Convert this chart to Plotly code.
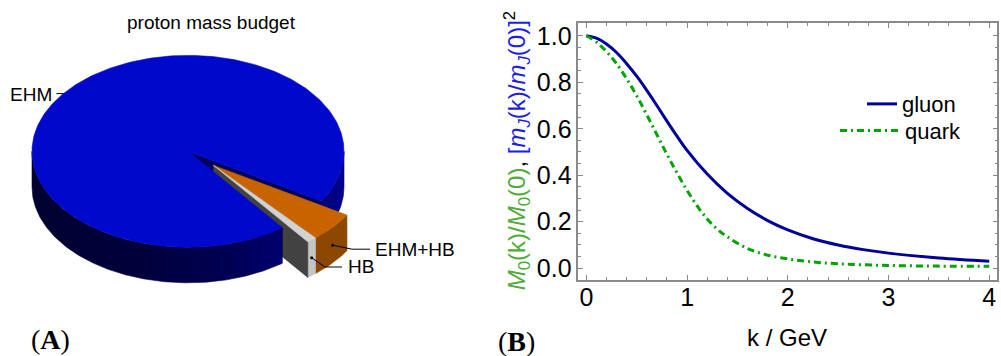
import numpy as np
import plotly.graph_objects as go

# ---------------- data ----------------
# Panel A: proton mass budget (percent)
budget_labels = ["EHM", "EHM+HB", "HB"]
budget_share = [94, 5, 1]

# Panel B: running masses (normalised)
k_gluon = [0, 0.1, 0.2, 0.3, 0.4, 0.5, 0.6, 0.7, 0.8, 0.9, 1.0, 1.2, 1.4, 1.6,
           1.8, 2.0, 2.25, 2.5, 2.75, 3.0, 3.5, 4.0]
gluon = [1.0, 0.99, 0.965, 0.928, 0.88, 0.826, 0.765, 0.70, 0.633, 0.568, 0.507,
         0.405, 0.322, 0.257, 0.205, 0.165, 0.127, 0.100, 0.080, 0.065, 0.044, 0.030]
k_quark = [0, 0.1, 0.2, 0.3, 0.4, 0.5, 0.6, 0.7, 0.8, 0.9, 1.0, 1.1, 1.2, 1.3,
           1.4, 1.6, 1.8, 2.0, 2.2, 2.5, 3.0, 3.5, 4.0]
quark = [1.0, 0.973, 0.932, 0.88, 0.815, 0.742, 0.66, 0.575, 0.49, 0.41, 0.335,
         0.268, 0.212, 0.168, 0.135, 0.085, 0.056, 0.040, 0.029, 0.019, 0.012, 0.009, 0.008]
x_ticks = [0, 1, 2, 3, 4]
y_ticks = [0.0, 0.2, 0.4, 0.6, 0.8, 1.0]
y_ticktext = ["0.0", "0.2", "0.4", "0.6", "0.8", "1.0"]

FONT = "Liberation Sans, Arial, sans-serif"
GRAY = "#8a8a8a"

fig = go.Figure()

# ---------------- Panel A: 3D-looking pie ----------------
cx, cy, ra, rb, hh = 188.0, 151.0, 156.0, 97.0, 36.0
phi_mid = 42.0
explode = 0.22

def rim(phi, ox=0.0, oy=0.0, dz=0.0):
    t = np.radians(phi)
    return ox + cx + ra * np.cos(t), oy + cy + rb * np.sin(t) + dz

def poly(xs, ys, color, gradient=None):
    kw = dict(fillcolor=color)
    if gradient is not None:
        kw = dict(fillgradient=dict(type="horizontal", colorscale=gradient))
    fig.add_trace(go.Scatter(x=list(xs) + [xs[0]], y=list(ys) + [ys[0]], xaxis="x2", yaxis="y2",
                             mode="lines", fill="toself", line=dict(color=color, width=0.6),
                             hoverinfo="skip", showlegend=False, **kw))

def side(p1, p2, color, ox=0.0, oy=0.0, gradient=None):
    ph = np.linspace(p1, p2, max(3, int(abs(p2 - p1)) * 2 + 2))
    xt, yt = rim(ph, ox, oy)
    xb, yb = rim(ph[::-1], ox, oy, hh)
    poly(np.r_[xt, xb], np.r_[yt, yb], color, gradient)

def radial(phi, color, ox=0.0, oy=0.0):
    xr, yr = rim(phi, ox, oy)
    xs = [cx + ox, xr, xr, cx + ox]
    ys = [cy + oy, yr, yr + hh, cy + oy + hh]
    poly(xs, ys, color)

spans = [360.0 * s / sum(budget_share) for s in budget_share]
wedge = spans[1] + spans[2]
ehm_start = phi_mid + wedge / 2
ehm_end = ehm_start + spans[0]

# 1) blue right-hand side (behind the exploded wedge) and upper cut face
side(360.0, ehm_end, "rgb(0,0,130)",
     gradient=[[0, "rgb(0,0,118)"], [1, "rgb(0,0,145)"]])
radial(ehm_end, "#00005e")

# 2) exploded wedge (EHM+HB then HB)
ox = explode * ra * np.cos(np.radians(phi_mid))
oy = explode * rb * np.sin(np.radians(phi_mid))
o0 = phi_mid - wedge / 2
o1 = o0 + spans[1]
g1 = o1 + spans[2]
side(o0, o1, "#8c4700", ox, oy)
side(o1, g1, "#c4c4c4", ox, oy)
radial(g1, "#424242", ox, oy)
ph = np.linspace(o0, o1, 40)
xt, yt = rim(ph, ox, oy)
poly(np.r_[cx + ox, xt], np.r_[cy + oy, yt], "#c86400")
ph = np.linspace(o1, g1, 10)
xt, yt = rim(ph, ox, oy)
poly(np.r_[cx + ox, xt], np.r_[cy + oy, yt], "#d2d2d2")

# 3) blue front side (in front of the wedge) and blue top
side(ehm_start, 180.0, "rgb(0,0,60)",
     gradient=[[0, "rgb(0,0,48)"], [0.45, "rgb(0,0,60)"], [0.8, "rgb(0,0,84)"],
               [1, "rgb(0,0,112)"]])
ph = np.linspace(ehm_start, ehm_end, 300)
xt, yt = rim(ph)
poly(np.r_[cx, xt], np.r_[cy, yt], "#0008cc")

# leader lines
xe, ye = rim(217.0)
fig.add_trace(go.Scatter(x=[xe - 7, xe], y=[ye, ye], xaxis="x2", yaxis="y2", mode="lines",
                         line=dict(color="black", width=1), hoverinfo="skip", showlegend=False))
xd, yd = rim((o0 + o1) / 2, ox, oy, hh / 2)
fig.add_trace(go.Scatter(x=[xd, 352, 370], y=[yd, 250, 250], xaxis="x2", yaxis="y2",
                         mode="lines", line=dict(color="black", width=1), hoverinfo="skip",
                         showlegend=False))
xh, yh = rim((o1 + g1) / 2, ox, oy, hh / 2)
fig.add_trace(go.Scatter(x=[xh, 325, 342], y=[yh, 268, 268], xaxis="x2", yaxis="y2",
                         mode="lines", line=dict(color="black", width=1), hoverinfo="skip",
                         showlegend=False))
fig.add_trace(go.Scatter(x=[xd, xh], y=[yd, yh], xaxis="x2", yaxis="y2", mode="markers",
                         marker=dict(color="black", size=3), hoverinfo="skip", showlegend=False))

# ---------------- Panel B: lines ----------------
fig.add_trace(go.Scatter(x=k_gluon, y=gluon, mode="lines", name="gluon", line_shape="spline",
                         line=dict(color="#00009c", width=3), legend="legend"))
fig.add_trace(go.Scatter(x=k_quark, y=quark, mode="lines", name="quark", line_shape="spline",
                         line=dict(color="#00a400", width=3, dash="7px,4px,2px,4px"),
                         legend="legend2"))

def txt(text, x, y, xref, yref, size, xanchor="center", family=FONT, **kw):
    return dict(text=text, x=x, y=y, xref=xref, yref=yref, xanchor=xanchor, yanchor="middle",
                showarrow=False, font=dict(size=size, family=family, color="black"), **kw)

ann = [
    txt("proton mass budget", 211, 21, "x2", "y2", 19),
    txt(budget_labels[0], xe - 9, ye + 1, "x2", "y2", 19, xanchor="right"),
    txt(budget_labels[1], 373, 250, "x2", "y2", 19, xanchor="left"),
    txt(budget_labels[2], 346, 268, "x2", "y2", 19, xanchor="left"),
    txt("(<b>A</b>)", 50 / 1001, 1 - 341 / 356, "paper", "paper", 28,
        family="Liberation Serif, serif"),
    txt("(<b>B</b>)", 516 / 1001, 1 - 343 / 356, "paper", "paper", 28,
        family="Liberation Serif, serif"),
    txt("k / GeV", 787 / 1001, 1 - 339 / 356, "paper", "paper", 24),
]
ytitle = ("<span style='color:#4fab36'><i>M</i><sub>0</sub>(k)/<i>M</i><sub>0</sub>(0)</span>, "
          "<span style='color:#1c1cf0'>[<i>m<sub>J</sub></i>(k)/<i>m<sub>J</sub></i>(0)]</span><sup>2</sup>")
ann.append(txt(ytitle, 517 / 1001, 1 - 151 / 356, "paper", "paper", 24, textangle=-90))

axis_common = dict(showgrid=False, zeroline=False, showline=True, linecolor=GRAY, linewidth=1.5,
                   mirror="allticks", ticks="inside", ticklen=5, tickwidth=1.2, tickcolor=GRAY,
                   tickfont=dict(size=25, family=FONT, color="black"))

fig.update_layout(
    width=1001, height=356, margin=dict(l=0, r=0, t=0, b=0),
    paper_bgcolor="white", plot_bgcolor="white",
    xaxis=dict(domain=[578.3 / 1001, 997.3 / 1001], range=[-0.08, 4.08], tickvals=x_ticks,
               minor=dict(dtick=0.2, tick0=0, ticklen=3, tickcolor=GRAY, ticks="inside"),
               anchor="y", ticklabelstandoff=-6, **axis_common),
    yaxis=dict(domain=[1 - 281 / 356, 1 - 21.7 / 356], range=[-0.05, 1.053], tickvals=y_ticks,
               ticktext=y_ticktext,
               minor=dict(dtick=0.05, tick0=0, ticklen=3, tickcolor=GRAY, ticks="inside"),
               anchor="x", **axis_common),
    xaxis2=dict(domain=[0, 470 / 1001], range=[0, 470], visible=False, fixedrange=True),
    yaxis2=dict(domain=[0, 1], range=[356, 0], visible=False, fixedrange=True, anchor="x2"),
    legend=dict(x=862 / 1001, y=1 - 82 / 356, xanchor="left", yanchor="top",
                bgcolor="rgba(0,0,0,0)", font=dict(size=22, family=FONT, color="black")),
    legend2=dict(x=835 / 1001, y=1 - 109 / 356, xanchor="left", yanchor="top", itemwidth=60,
                 bgcolor="rgba(0,0,0,0)", font=dict(size=22, family=FONT, color="black")),
    annotations=ann,
    showlegend=True,
)

fig.write_html("out.html")
